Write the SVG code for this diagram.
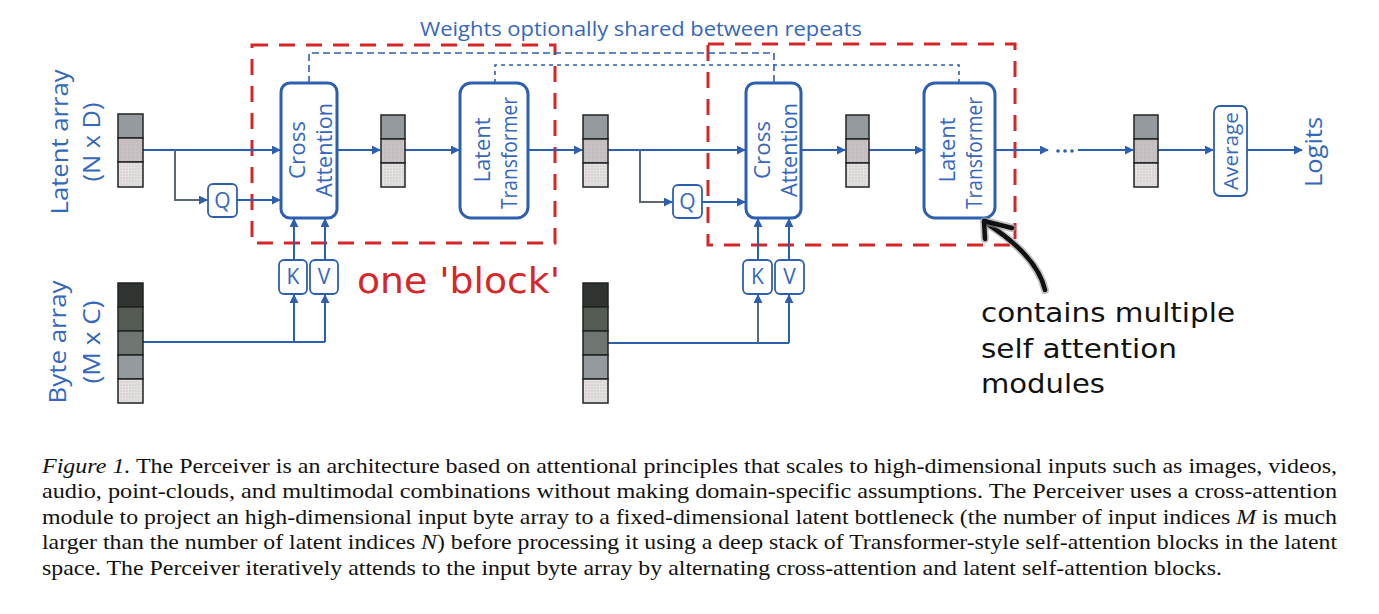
<svg xmlns="http://www.w3.org/2000/svg" width="1379" height="614" viewBox="0 0 1379 614">
<defs>
<marker id="ah" viewBox="0 0 10 10" refX="9" refY="5" markerWidth="9" markerHeight="9" markerUnits="userSpaceOnUse" orient="auto">
<path d="M0,0 L10,5 L0,10 z" fill="#2d5fb0"/>
</marker>
<pattern id="dotsB" width="4" height="4" patternUnits="userSpaceOnUse">
<rect width="4" height="4" fill="#c9c1c0"/><circle cx="1" cy="1" r="0.6" fill="#8fb0dc"/>
</pattern>
<pattern id="dotsL" width="3" height="3" patternUnits="userSpaceOnUse">
<rect width="3" height="3" fill="#e4e0e0"/><circle cx="1" cy="1" r="0.5" fill="#b5aaaa"/>
</pattern>
</defs>
<style>
.box{fill:#fff;stroke:#2d5fb0;stroke-width:3}
.sbox{fill:#fff;stroke:#2d5fb0;stroke-width:1.8}
.lbl{font-family:"Open Sans","Liberation Sans",sans-serif;fill:#3567bd;font-size:21px;text-anchor:middle}
.big{font-family:"Open Sans","Liberation Sans",sans-serif;fill:#3567bd;font-size:24px;text-anchor:middle}
.ln{fill:none;stroke:#2d5fb0;stroke-width:2}
.lng{fill:none;stroke:#5d6873;stroke-width:2}
.arr{marker-end:url(#ah)}
.red{fill:none;stroke:#d62728;stroke-width:3;stroke-dasharray:16 11}
.bd{fill:none;stroke:#2d5fb0;stroke-width:1.6}
.cell{stroke:#222;stroke-width:1.5}
.cap{font-family:"Liberation Serif","Times New Roman",serif;font-size:21px;fill:#111}
</style>
<rect width="1379" height="614" fill="#fff"/>

<!-- red block boxes -->
<g id="block1"><rect class="red" x="252" y="45" width="303" height="198"/></g>
<g id="block2"><rect class="red" x="708" y="44" width="307" height="201"/></g>

<!-- weight sharing dashed lines -->
<g id="sharing">
<path class="bd" stroke-dasharray="7 4" d="M309,83 V53 H774 V83"/>
<path class="bd" stroke-dasharray="4 4" d="M495,83 V65 H959 V83"/>
<text x="420" y="36" textLength="442" lengthAdjust="spacingAndGlyphs" style="font-family:'Open Sans','Liberation Sans',sans-serif;font-size:20px;fill:#3567bd">Weights optionally shared between repeats</text>
</g>

<!-- connectors -->
<g id="connectors">
<path class="ln arr" d="M143,150 H280"/>
<path class="lng arr" d="M175,150 V200 H207"/>
<path class="ln arr" d="M237,200 H280"/>
<path class="ln" d="M143,342 H325"/>
<path class="ln arr" d="M294,342 V295"/>
<path class="ln arr" d="M325,342 V295"/>
<path class="ln arr" d="M294,260 V219"/>
<path class="ln arr" d="M325,260 V219"/>
<path class="ln arr" d="M337,150 H380"/>
<path class="ln arr" d="M405,150 H459"/>
<path class="ln arr" d="M528,150 H582"/>
<path class="ln arr" d="M608,150 H745"/>
<path class="lng arr" d="M640,150 V202 H672"/>
<path class="ln arr" d="M702,202 H745"/>
<path class="ln" d="M608,343 H789"/>
<path class="lng arr" d="M758,343 V295"/>
<path class="ln arr" d="M789,343 V295"/>
<path class="ln arr" d="M758,260 V219"/>
<path class="ln arr" d="M789,260 V219"/>
<path class="ln arr" d="M801,150 H845"/>
<path class="ln arr" d="M869,150 H923"/>
<path class="ln arr" d="M995,150 H1048"/>
<path class="ln arr" d="M1078,150 H1133"/>
<path class="ln arr" d="M1158,150 H1213"/>
<path class="ln arr" d="M1247,150 H1302"/>
<g fill="#2d5fb0"><circle cx="1058" cy="151" r="1.8"/><circle cx="1065" cy="151" r="1.8"/><circle cx="1072" cy="151" r="1.8"/></g>
</g>

<!-- latent array input -->
<g id="latent_array">
<text class="big" transform="translate(68,142) rotate(-90)" textLength="145" lengthAdjust="spacingAndGlyphs">Latent array</text>
<text class="big" transform="translate(100,142) rotate(-90)" textLength="79" lengthAdjust="spacingAndGlyphs">(N x D)</text>
<rect class="cell" x="118" y="114" width="25" height="24" fill="#959a9e"/>
<rect class="cell" x="118" y="138" width="25" height="24" fill="url(#dotsB)"/>
<rect class="cell" x="118" y="162" width="25" height="25" fill="url(#dotsL)"/>
</g>

<!-- byte array -->
<g id="byte_array">
<text class="big" transform="translate(66,342) rotate(-90)" textLength="123" lengthAdjust="spacingAndGlyphs">Byte array</text>
<text class="big" transform="translate(100,342) rotate(-90)" textLength="83" lengthAdjust="spacingAndGlyphs">(M x C)</text>
<rect class="cell" x="118" y="283" width="25" height="24" fill="#2f3430"/>
<rect class="cell" x="118" y="307" width="25" height="24" fill="#555c53"/>
<rect class="cell" x="118" y="331" width="25" height="24" fill="#6f7570"/>
<rect class="cell" x="118" y="355" width="25" height="24" fill="#949a9e"/>
<rect class="cell" x="118" y="379" width="25" height="24" fill="url(#dotsL)"/>
</g>

<g id="byte_array2">
<rect class="cell" x="583" y="283" width="25" height="24" fill="#2f3430"/>
<rect class="cell" x="583" y="307" width="25" height="24" fill="#555c53"/>
<rect class="cell" x="583" y="331" width="25" height="24" fill="#6f7570"/>
<rect class="cell" x="583" y="355" width="25" height="24" fill="#949a9e"/>
<rect class="cell" x="583" y="379" width="25" height="24" fill="url(#dotsL)"/>
</g>

<g id="q1"><rect class="sbox" x="208" y="184" width="29" height="33" rx="5"/><text class="lbl" x="222.5" y="208">Q</text></g>
<g id="k1"><rect class="sbox" x="279" y="260" width="28" height="34" rx="5"/><text class="lbl" x="293" y="284">K</text></g>
<g id="v1"><rect class="sbox" x="310" y="260" width="28" height="34" rx="5"/><text class="lbl" x="324" y="284">V</text></g>

<g id="cross_attention1">
<rect class="box" x="281" y="83" width="56" height="135" rx="9"/>
<text class="lbl" transform="translate(305,150) rotate(-90)" textLength="58" lengthAdjust="spacingAndGlyphs">Cross</text>
<text class="lbl" transform="translate(332,150) rotate(-90)" textLength="94" lengthAdjust="spacingAndGlyphs">Attention</text>
</g>

<g id="latent1">
<rect class="cell" x="381" y="115" width="24" height="24" fill="#959a9e"/>
<rect class="cell" x="381" y="139" width="24" height="24" fill="url(#dotsB)"/>
<rect class="cell" x="381" y="163" width="24" height="24" fill="url(#dotsL)"/>
</g>

<g id="latent_transformer1">
<rect class="box" x="460" y="83" width="68" height="135" rx="11"/>
<text class="lbl" transform="translate(490,150) rotate(-90)" textLength="65" lengthAdjust="spacingAndGlyphs">Latent</text>
<text class="lbl" transform="translate(517,153) rotate(-90)" textLength="112" lengthAdjust="spacingAndGlyphs">Transformer</text>
</g>

<g id="latent2">
<rect class="cell" x="583" y="115" width="25" height="24" fill="#959a9e"/>
<rect class="cell" x="583" y="139" width="25" height="24" fill="url(#dotsB)"/>
<rect class="cell" x="583" y="163" width="25" height="24" fill="url(#dotsL)"/>
</g>

<g id="q2"><rect class="sbox" x="673" y="185" width="29" height="33" rx="5"/><text class="lbl" x="687.5" y="209">Q</text></g>
<g id="k2"><rect class="sbox" x="743" y="260" width="29" height="34" rx="5"/><text class="lbl" x="757.5" y="284">K</text></g>
<g id="v2"><rect class="sbox" x="775" y="260" width="29" height="34" rx="5"/><text class="lbl" x="789.5" y="284">V</text></g>

<g id="cross_attention2">
<rect class="box" x="746" y="83" width="55" height="135" rx="9"/>
<text class="lbl" transform="translate(770,150) rotate(-90)" textLength="58" lengthAdjust="spacingAndGlyphs">Cross</text>
<text class="lbl" transform="translate(797,150) rotate(-90)" textLength="94" lengthAdjust="spacingAndGlyphs">Attention</text>
</g>

<g id="latent3">
<rect class="cell" x="846" y="115" width="23" height="24" fill="#959a9e"/>
<rect class="cell" x="846" y="139" width="23" height="24" fill="url(#dotsB)"/>
<rect class="cell" x="846" y="163" width="23" height="24" fill="url(#dotsL)"/>
</g>

<g id="latent_transformer2">
<rect class="box" x="924" y="83" width="71" height="135" rx="11"/>
<text class="lbl" transform="translate(955,150) rotate(-90)" textLength="65" lengthAdjust="spacingAndGlyphs">Latent</text>
<text class="lbl" transform="translate(982,153) rotate(-90)" textLength="112" lengthAdjust="spacingAndGlyphs">Transformer</text>
</g>

<g id="latent_final">
<rect class="cell" x="1134" y="115" width="24" height="24" fill="#959a9e"/>
<rect class="cell" x="1134" y="139" width="24" height="24" fill="url(#dotsB)"/>
<rect class="cell" x="1134" y="163" width="24" height="24" fill="url(#dotsL)"/>
</g>

<g id="average">
<rect class="sbox" x="1214" y="106" width="33" height="90" rx="6"/>
<text class="lbl" style="font-size:20px" transform="translate(1238,151) rotate(-90)" textLength="78" lengthAdjust="spacingAndGlyphs">Average</text>
</g>

<g id="logits">
<text class="big" transform="translate(1322,152) rotate(-90)" textLength="70" lengthAdjust="spacingAndGlyphs">Logits</text>
</g>

<g id="block_label">
<text x="357" y="293" textLength="203" lengthAdjust="spacingAndGlyphs" style="font-family:'DejaVu Sans',sans-serif;font-size:36px;fill:#d62728">one 'block'</text>
</g>

<g id="annotation">
<path d="M1045,290 C1040,268 1022,246 986,223" fill="none" stroke="#999" stroke-width="8" stroke-linecap="round" opacity="0.6"/>
<path d="M1045,290 C1040,268 1022,246 986,223" fill="none" stroke="#111" stroke-width="4.5" stroke-linecap="round"/>
<path d="M1012,228 L984,221 L985,239" fill="none" stroke="#999" stroke-width="8" stroke-linecap="round" stroke-linejoin="round" opacity="0.6"/>
<path d="M1012,228 L984,221 L985,239" fill="none" stroke="#111" stroke-width="4.5" stroke-linecap="round" stroke-linejoin="round"/>
<g style="font-family:'DejaVu Sans',sans-serif;font-size:27px;fill:#111">
<text x="981" y="322" textLength="254" lengthAdjust="spacingAndGlyphs">contains multiple</text>
<text x="981" y="358" textLength="196" lengthAdjust="spacingAndGlyphs">self attention</text>
<text x="981" y="393" textLength="124" lengthAdjust="spacingAndGlyphs">modules</text>
</g>
</g>

<g id="caption" class="cap">
<text x="42" y="473" textLength="1295" lengthAdjust="spacingAndGlyphs"><tspan font-style="italic">Figure 1.</tspan> The Perceiver is an architecture based on attentional principles that scales to high-dimensional inputs such as images, videos,</text>
<text x="42" y="498" textLength="1295" lengthAdjust="spacingAndGlyphs">audio, point-clouds, and multimodal combinations without making domain-specific assumptions. The Perceiver uses a cross-attention</text>
<text x="42" y="524" textLength="1295" lengthAdjust="spacingAndGlyphs">module to project an high-dimensional input byte array to a fixed-dimensional latent bottleneck (the number of input indices <tspan font-style="italic">M</tspan> is much</text>
<text x="42" y="549" textLength="1295" lengthAdjust="spacingAndGlyphs">larger than the number of latent indices <tspan font-style="italic">N</tspan>) before processing it using a deep stack of Transformer-style self-attention blocks in the latent</text>
<text x="42" y="575" textLength="1180" lengthAdjust="spacingAndGlyphs">space. The Perceiver iteratively attends to the input byte array by alternating cross-attention and latent self-attention blocks.</text>
</g>
</svg>
